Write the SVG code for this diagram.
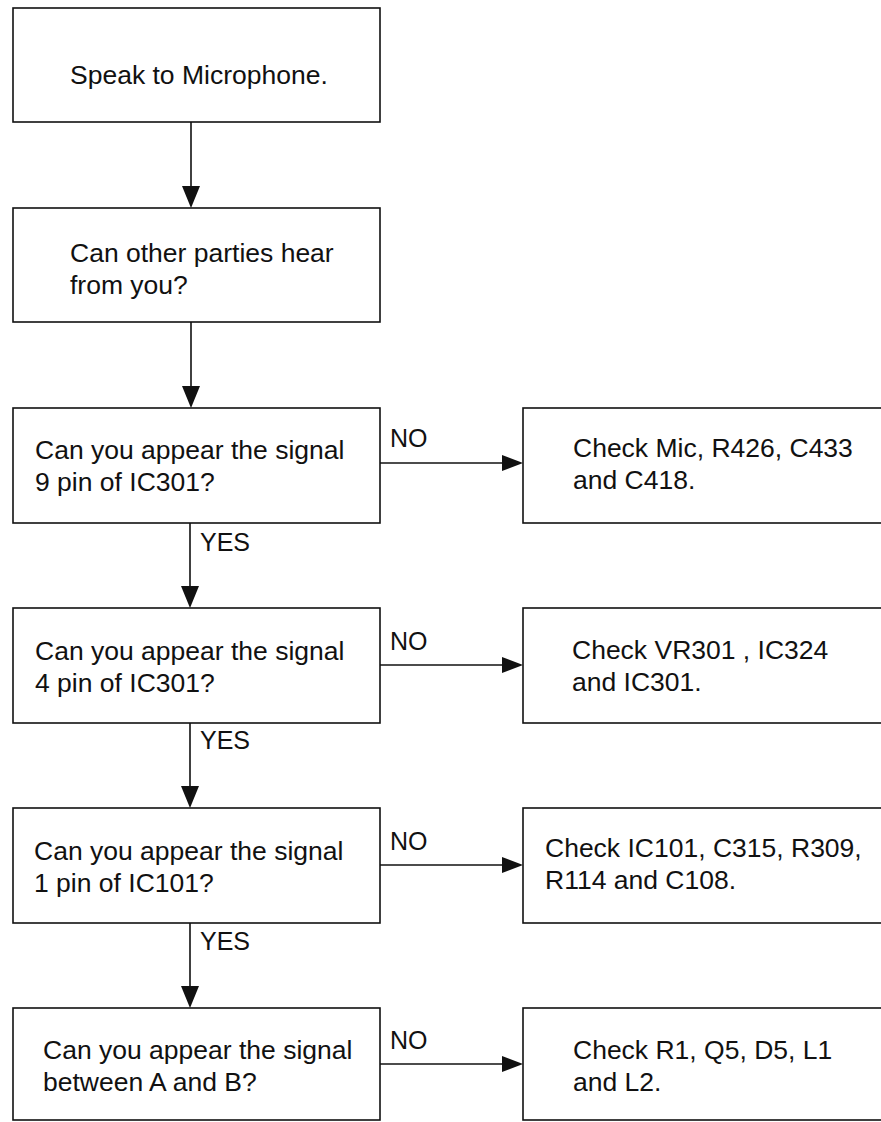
<svg xmlns="http://www.w3.org/2000/svg" width="881" height="1122" viewBox="0 0 881 1122">
<defs>
<style>
.box{fill:#fff;stroke:#111;stroke-width:1.6}
.t{font-family:"Liberation Sans",Arial,Helvetica,sans-serif;font-size:26.5px;fill:#111}
.lbl{font-family:"Liberation Sans",Arial,Helvetica,sans-serif;font-size:25px;fill:#111}
.ln{stroke:#111;stroke-width:1.6;fill:none}
.ah{fill:#111}
</style>
</defs>
<rect width="881" height="1122" fill="#fff"/>
<g id="connectors">
<line class="ln" x1="191" y1="122" x2="191" y2="190"/><polygon class="ah" points="182,186 200,186 191,208"/>
<line class="ln" x1="191" y1="322" x2="191" y2="390"/><polygon class="ah" points="182,386 200,386 191,408"/>
<line class="ln" x1="190" y1="523" x2="190" y2="590"/><polygon class="ah" points="181,586 199,586 190,608"/>
<line class="ln" x1="190" y1="723" x2="190" y2="790"/><polygon class="ah" points="181,786 199,786 190,808"/>
<line class="ln" x1="190" y1="923" x2="190" y2="990"/><polygon class="ah" points="181,986 199,986 190,1008"/>
<line class="ln" x1="380" y1="463" x2="505" y2="463"/><polygon class="ah" points="502,455 502,471 523,463"/>
<line class="ln" x1="380" y1="665" x2="505" y2="665"/><polygon class="ah" points="502,657 502,673 523,665"/>
<line class="ln" x1="380" y1="865" x2="505" y2="865"/><polygon class="ah" points="502,857 502,873 523,865"/>
<line class="ln" x1="380" y1="1064" x2="505" y2="1064"/><polygon class="ah" points="502,1056 502,1072 523,1064"/>
<text class="lbl" x="390" y="447">NO</text>
<text class="lbl" x="390" y="650">NO</text>
<text class="lbl" x="390" y="850">NO</text>
<text class="lbl" x="390" y="1049">NO</text>
<text class="lbl" x="200" y="551">YES</text>
<text class="lbl" x="200" y="749">YES</text>
<text class="lbl" x="200" y="950">YES</text>
</g>
<g id="n1"><rect class="box" x="13" y="8" width="367" height="114"/><text class="t" x="70" y="84">Speak to Microphone.</text></g>
<g id="n2"><rect class="box" x="13" y="208" width="367" height="114"/><text class="t" x="70" y="262">Can other parties hear</text><text class="t" x="70" y="294">from you?</text></g>
<g id="n3"><rect class="box" x="13" y="408" width="367" height="115"/><text class="t" x="35" y="459">Can you appear the signal</text><text class="t" x="35" y="491">9 pin of IC301?</text></g>
<g id="n3r"><rect class="box" x="523" y="408" width="380" height="115"/><text class="t" x="573" y="457">Check Mic, R426, C433</text><text class="t" x="573" y="489">and C418.</text></g>
<g id="n4"><rect class="box" x="13" y="608" width="367" height="115"/><text class="t" x="35" y="660">Can you appear the signal</text><text class="t" x="35" y="692">4 pin of IC301?</text></g>
<g id="n4r"><rect class="box" x="523" y="608" width="380" height="115"/><text class="t" x="572" y="659">Check VR301 , IC324</text><text class="t" x="572" y="691">and IC301.</text></g>
<g id="n5"><rect class="box" x="13" y="808" width="367" height="115"/><text class="t" x="34" y="860">Can you appear the signal</text><text class="t" x="34" y="892">1 pin of IC101?</text></g>
<g id="n5r"><rect class="box" x="523" y="808" width="380" height="115"/><text class="t" x="545" y="857">Check IC101, C315, R309,</text><text class="t" x="545" y="889">R114 and C108.</text></g>
<g id="n6"><rect class="box" x="13" y="1008" width="367" height="112"/><text class="t" x="43" y="1059">Can you appear the signal</text><text class="t" x="43" y="1091">between A and B?</text></g>
<g id="n6r"><rect class="box" x="523" y="1008" width="380" height="112"/><text class="t" x="573" y="1059">Check R1, Q5, D5, L1</text><text class="t" x="573" y="1091">and L2.</text></g>
</svg>
